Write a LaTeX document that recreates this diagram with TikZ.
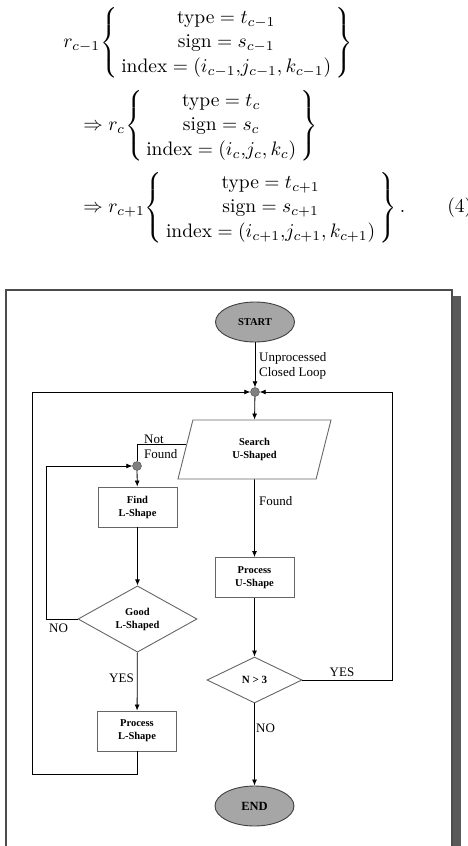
\documentclass[tikz,border=0pt]{standalone}
\usepackage{amsmath}
\usepackage{fontspec}
\newfontfamily\flowfont{Liberation Serif}
\usetikzlibrary{shapes.geometric,arrows.meta}

\begin{document}
\begin{tikzpicture}[x=1pt,y=-1pt,
		eqn/.style={anchor=west, scale=1.95, inner sep=0pt},
		flowbox/.style={draw=black!60, line width=0.9pt, fill=white, minimum width=79pt, minimum height=40pt, inner sep=0pt, align=center, font=\flowfont\bfseries\fontsize{10.5}{13}\selectfont},
		decision/.style={flowbox, diamond},
		terminal/.style={flowbox, ellipse, draw=black!75, fill=black!35, minimum width=79pt, minimum height=40pt},
		junction/.style={circle, draw=black!70, fill=black!50, minimum size=9pt, inner sep=0pt},
		lbl/.style={inner sep=0pt, align=left, font=\flowfont\fontsize{13}{15}\selectfont},
		line/.style={draw=black, line width=0.8pt},
		flow/.style={line, -{Latex[length=6pt,width=5pt]}}]
	\useasboundingbox (0,0) rectangle (468,846);
	% Equation (4)
	\setlength{\arraycolsep}{2pt}
	\renewcommand{\arraystretch}{1.05}
	\node[eqn] (rprev) at (63,43) {$r_{c-1}\!\left\{\begin{array}{c}\text{type}=t_{c-1}\\ \text{sign}=s_{c-1}\\ \text{index}=(i_{c-1}{,}j_{c-1},k_{c-1})\end{array}\right\}$};
	\node[eqn] (rcur) at (83,126) {$\Rightarrow r_{c}\!\left\{\begin{array}{c}\text{type}=t_{c}\\ \text{sign}=s_{c}\\ \text{index}=(i_{c}{,}j_{c},k_{c})\end{array}\right\}$};
	\node[eqn] (rnext) at (83,208) {$\Rightarrow r_{c+1}\!\left\{\begin{array}{c}\text{type}=t_{c+1}\\ \text{sign}=s_{c+1}\\ \text{index}=(i_{c+1}{,}j_{c+1},k_{c+1})\end{array}\right\}.$};
	\node[eqn] (eqno) at (447,208) {$(4)$};
	% Frame and shadow
	\fill[black!65] (452,296) rectangle (461,880);
	\draw[black!70, line width=1.1pt, fill=white] (6,290) rectangle (452,880);
	% Right column
	\node[terminal, font=\flowfont\bfseries\fontsize{10.5}{12}\selectfont] (start) at (255,322) {START};
	\node[junction] (j1) at (255,392) {};
	\node[flowbox, trapezium, trapezium left angle=56.5, trapezium right angle=123.5, trapezium stretches body=true, minimum width=153pt, minimum height=59pt] (search) at (254.5,449.5) {Search\\U-Shaped};
	\node[flowbox] (procU) at (254.5,577.5) {Process\\U-Shape};
	\node[decision, minimum width=95pt, minimum height=46pt, font=\flowfont\bfseries\fontsize{11}{13}\selectfont] (n3) at (254.5,680) {N > 3};
	\node[terminal, font=\flowfont\bfseries\fontsize{12.5}{14}\selectfont] (end) at (254.5,806) {END};
	% Left column
	\node[junction] (j2) at (137,466) {};
	\node[flowbox] (findL) at (137.5,507) {Find\\L-Shape};
	\node[decision, minimum width=119pt, minimum height=62pt] (good) at (137.5,619) {Good\\L-Shaped};
	\node[flowbox] (procL) at (137,731) {Process\\L-Shape};
	% Loop corners
	\coordinate (rt) at (392,392);
	\coordinate (lb) at (32,774);
	\coordinate (lt) at (46,466);
	% Connectors
	\draw[flow] (start) -- (j1);
	\draw[flow] (j1) -- (search.north);
	\draw[flow] (search.south) -- (procU.north);
	\draw[flow] (procU) -- (n3);
	\draw[flow] (n3) -- (end);
	\draw[flow] (n3.east) -| (rt) -- (j1);
	\draw[line] (search.176) -| (j2);
	\draw[flow] (j2) -- (findL);
	\draw[flow] (findL) -- (good);
	\draw[flow] (good) -- (procL);
	\draw[flow] (good.west) -| (lt) -- (j2);
	\draw[flow] (procL.south) |- (lb) |- (j1);
	% Labels
	\node[lbl, anchor=west] (unproc) at (259,366) {Unprocessed\\Closed Loop};
	\node[lbl, anchor=west] (notfound) at (144,447) {Not\\Found};
	\node[lbl, anchor=west] (found) at (259,501) {Found};
	\node[lbl, anchor=west] (noleft) at (49,628) {NO};
	\node[lbl, anchor=east] (yesleft) at (134,678) {YES};
	\node[lbl] (yesright) at (342,672) {YES};
	\node[lbl, anchor=west] (nobottom) at (256,728) {NO};
\end{tikzpicture}
\end{document}
